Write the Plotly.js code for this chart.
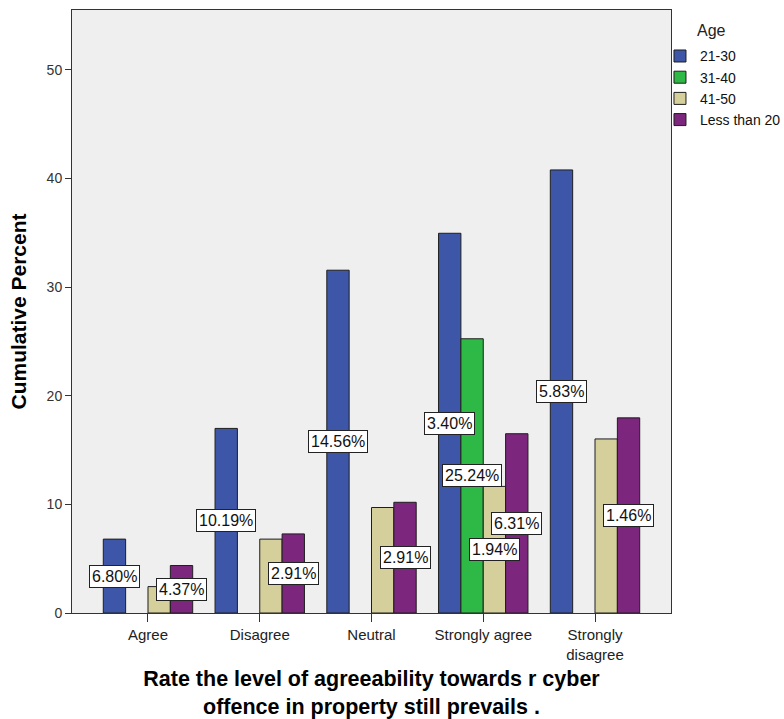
<!DOCTYPE html>
<html>
<head>
<meta charset="utf-8">
<script src="https://cdn.plot.ly/plotly-3.0.1.min.js"></script>
<style>
  html, body { margin: 0; padding: 0; background: #ffffff; }
  #chart { width: 784px; height: 719px; }
</style>
</head>
<body>
<div id="chart"></div>
<script>
// Response categories (x axis) and their tick text
const categories = ["Agree", "Disagree", "Neutral", "Strongly agree", "Strongly disagree"];
const categoryTicks = ["Agree", "Disagree", "Neutral", "Strongly agree", "Strongly<br>disagree"];

// Age groups (legend)
const legendTitle = "Age";
const ageGroups = ["21-30", "31-40", "41-50", "Less than 20"];

// Percent of all respondents per category, for each age group (null = no respondents)
const pct_21_30 = [6.80, 10.19, 14.56, 3.40, 5.83];
const pct_31_40 = [null, null, null, 25.24, null];
const pct_41_50 = [2.43, 4.37, 2.91, 1.94, 4.37];
const pct_lt_20 = [4.37, 2.91, 2.91, 6.31, 1.46];

// Which bars carry a value label
const labelled_21_30 = [true, true, true, true, true];
const labelled_31_40 = [false, false, false, true, false];
const labelled_41_50 = [false, false, false, true, false];
const labelled_lt_20 = [true, true, true, true, true];

const seriesPct = [pct_21_30, pct_31_40, pct_41_50, pct_lt_20];
const seriesLabelled = [labelled_21_30, labelled_31_40, labelled_41_50, labelled_lt_20];
const colors = ["#3d56a8", "#2eb845", "#d5d09b", "#7c277d"];

const FONT = "Liberation Sans, Arial, sans-serif";
const xIdx = categories.map((_, i) => i);

// Running (cumulative) percent within each age group
function cumulative(arr) {
  let run = 0;
  return arr.map(v => {
    if (v === null) return null;
    run += v;
    return +run.toFixed(2);
  });
}

const BARGAP = 0.2;
const nSeries = ageGroups.length;
const barW = (1 - BARGAP) / nSeries;

const traces = [];
const annotations = [];

seriesPct.forEach((pct, s) => {
  const cum = cumulative(pct);
  traces.push({
    type: "bar",
    name: ageGroups[s],
    x: xIdx,
    y: cum,
    marker: { color: colors[s], line: { color: "#1e1e1e", width: 1 } },
    hoverinfo: "name+y"
  });
  const offset = (s - (nSeries - 1) / 2) * barW;
  cum.forEach((c, i) => {
    if (c === null || !seriesLabelled[s][i]) return;
    annotations.push({
      x: xIdx[i] + offset,
      y: c / 2,
      xref: "x", yref: "y",
      text: pct[i].toFixed(2) + "%",
      showarrow: false,
      font: { family: FONT, size: 16, color: "#111111" },
      bgcolor: "#ffffff",
      bordercolor: "#222222",
      borderwidth: 1,
      borderpad: 2
    });
  });
});

// Legend heading, set above the legend entries
annotations.push({
  xref: "paper", yref: "paper",
  x: 1.068, y: 0.966,
  xanchor: "center", yanchor: "middle",
  text: legendTitle,
  showarrow: false,
  font: { family: FONT, size: 16, color: "#222222" }
});

const layout = {
  width: 784,
  height: 719,
  margin: { l: 72, r: 113, t: 10, b: 106, autoexpand: false },
  paper_bgcolor: "#ffffff",
  plot_bgcolor: "#efefef",
  barmode: "group",
  bargap: BARGAP,
  bargroupgap: 0,
  font: { family: FONT, color: "#222222" },
  xaxis: {
    type: "linear",
    range: [-0.68, 4.68],
    tickvals: xIdx,
    ticktext: categoryTicks,
    ticks: "outside",
    ticklen: 8,
    tickwidth: 1,
    tickcolor: "#333333",
    tickfont: { family: FONT, size: 15, color: "#222222" },
    showgrid: false,
    zeroline: false,
    showline: true,
    linecolor: "#333333",
    linewidth: 1,
    mirror: true,
    automargin: false,
    title: {
      text: "<b>Rate the level of agreeability towards r cyber<br>offence in property still prevails .</b>",
      font: { family: FONT, size: 21.5, color: "#000000" },
      standoff: 17
    }
  },
  yaxis: {
    range: [0, 55.5],
    tickvals: [0, 10, 20, 30, 40, 50],
    ticks: "outside",
    ticklen: 6,
    tickwidth: 1,
    tickcolor: "#333333",
    tickfont: { family: FONT, size: 14, color: "#333333" },
    showgrid: false,
    zeroline: false,
    showline: true,
    linecolor: "#333333",
    linewidth: 1,
    mirror: true,
    automargin: false,
    title: {
      text: "<b>Cumulative Percent</b>",
      font: { family: FONT, size: 21, color: "#000000" },
      standoff: 14
    }
  },
  legend: {
    x: 0.9816,
    xanchor: "left",
    y: 0.9496,
    yanchor: "top",
    bgcolor: "rgba(0,0,0,0)",
    font: { family: FONT, size: 14, color: "#111111" },
    tracegroupgap: 0
  },
  annotations: annotations,
  showlegend: true
};

Plotly.newPlot("chart", traces, layout, { displayModeBar: false, staticPlot: true });
</script>
</body>
</html>
